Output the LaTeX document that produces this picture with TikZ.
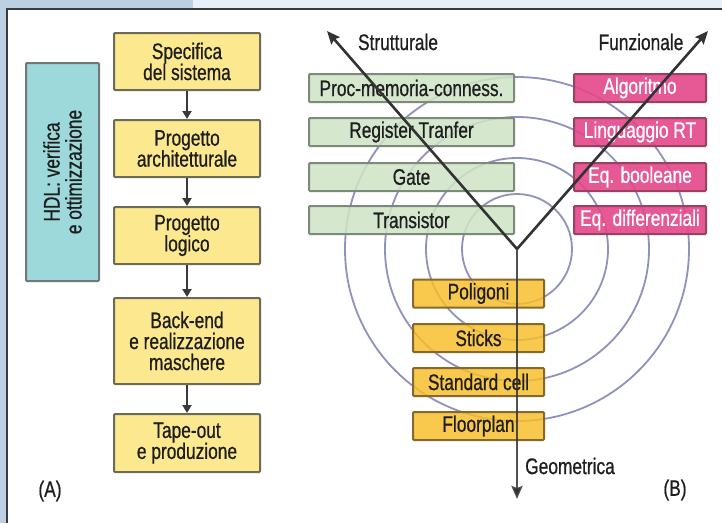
\documentclass[tikz,border=0pt]{standalone}
\usepackage{fontspec}
\setmainfont{Liberation Sans}[FakeStretch=0.77, FakeBold=0.7]
\usetikzlibrary{arrows.meta}
\definecolor{stripA}{HTML}{BDD0E3}
\definecolor{stripB}{HTML}{E9EFF8}
\definecolor{frameC}{HTML}{3A3A3A}
\definecolor{yellowF}{HTML}{FCE98F}
\definecolor{yellowD}{HTML}{6E6A58}
\definecolor{cyanF}{HTML}{9DD8DA}
\definecolor{cyanD}{HTML}{707878}
\definecolor{greenF}{HTML}{CEE5C6}
\definecolor{greenD}{HTML}{7D8A7A}
\definecolor{pinkF}{HTML}{E4478A}
\definecolor{pinkD}{HTML}{9A4060}
\definecolor{orangeF}{HTML}{F8BE28}
\definecolor{orangeD}{HTML}{86692A}
\definecolor{ringC}{HTML}{8E92BC}
\definecolor{txtC}{HTML}{1E1E1E}
\definecolor{axisC}{HTML}{333333}
\tikzset{
  every node/.style={font=\fontsize{22.5}{21}\selectfont, text=txtC, inner sep=0pt},
  basebox/.style={draw, line width=2pt, rounded corners=1pt, align=center},
  yellowbox/.style={basebox, fill=yellowF, draw=yellowD, minimum width=146pt},
  cyanbox/.style={basebox, fill=cyanF, draw=cyanD, minimum width=73pt, minimum height=218pt},
  greenbox/.style={basebox, fill=greenF, fill opacity=0.85, text opacity=1, draw=greenD, minimum width=205pt, minimum height=28pt},
  pinkbox/.style={basebox, fill=pinkF, fill opacity=0.9, text opacity=1, draw=pinkD, minimum width=132pt, minimum height=28pt, text=white},
  orangebox/.style={basebox, fill=orangeF, fill opacity=0.82, text opacity=1, draw=orangeD, minimum width=131pt, minimum height=28pt},
  flowarrow/.style={draw=frameC, line width=2pt, -{Triangle[length=8pt,width=9pt]}},
  axis/.style={draw=axisC, line width=2.6pt, -{Stealth[length=13pt,width=11pt,inset=2pt]}},
  ring/.style={draw=ringC, line width=1.8pt},
  lbl/.style={text=txtC}
}
\begin{document}
\begin{tikzpicture}[x=1pt,y=-1pt]
\useasboundingbox (0,0) rectangle (722,523);
% frame
\fill[white] (0,0) rectangle (722,523);
\fill[stripA] (0,0) rectangle (193,8);
\fill[stripB] (193,0) rectangle (722,8);
\fill[stripA] (0,8) rectangle (7,523);
\draw[frameC, line width=2pt] (7,523) -- (7,9) -- (722,9);

% (A) flow
\node[yellowbox, minimum height=57pt] (b1) at (187,61.5) {Specifica\\del sistema};
\node[yellowbox, minimum height=57pt] (b2) at (187,148.5) {Progetto\\architetturale};
\node[yellowbox, minimum height=57pt] (b3) at (187,235.5) {Progetto\\logico};
\node[yellowbox, minimum height=86pt] (b4) at (187,341) {Back-end\\e realizzazione\\maschere};
\node[yellowbox, minimum height=58pt] (b5) at (187,443) {Tape-out\\e produzione};
\draw[flowarrow] (b1.south) -- (b2.north);
\draw[flowarrow] (b2.south) -- (b3.north);
\draw[flowarrow] (b3.south) -- (b4.north);
\draw[flowarrow] (b4.south) -- (b5.north);
\node[cyanbox] (hdl) at (62.5,172) {};
\node[rotate=90, align=center, font=\fontsize{22.5}{22}\selectfont] (hdltxt) at (hdl.center) {HDL: verifica\\e ottimizzazione};
\node[lbl] (labA) at (50,491) {(A)};

% (B) Y-chart
\coordinate (V) at (517,249);
\coordinate (S) at (327,31);
\coordinate (F) at (708,31);
\coordinate (G) at (517,499);
\foreach \r in {55,91,132,172} {
  \draw[ring] (V) circle[radius=\r];
}
\node[greenbox] (g1) at (411.5,88) {Proc-memoria-conness.};
\node[greenbox] (g2) at (411.5,132) {Register Tranfer};
\node[greenbox] (g3) at (411.5,177) {Gate};
\node[greenbox] (g4) at (411.5,220) {Transistor};
\node[pinkbox] (p1) at (640,88) {Algoritmo};
\node[pinkbox] (p2) at (640,132) {Linguaggio RT};
\node[pinkbox] (p3) at (640,177) {Eq. booleane};
\node[pinkbox] (p4) at (640,220) {Eq. differenziali};
\node[orangebox] (o1) at (478.5,293.5) {Poligoni};
\node[orangebox] (o2) at (478.5,338) {Sticks};
\node[orangebox] (o3) at (478.5,382) {Standard cell};
\node[orangebox] (o4) at (478.5,426) {Floorplan};
\draw[axis] (V) -- (S);
\draw[axis] (V) -- (F);
\draw[axis, draw opacity=0.85] (V) -- (G);
\node[lbl] (ls) at (398,42) {Strutturale};
\node[lbl] (lf) at (641,42) {Funzionale};
\node[lbl] (lg) at (570,466) {Geometrica};
\node[lbl] (labB) at (675,490) {(B)};
\end{tikzpicture}
\end{document}
